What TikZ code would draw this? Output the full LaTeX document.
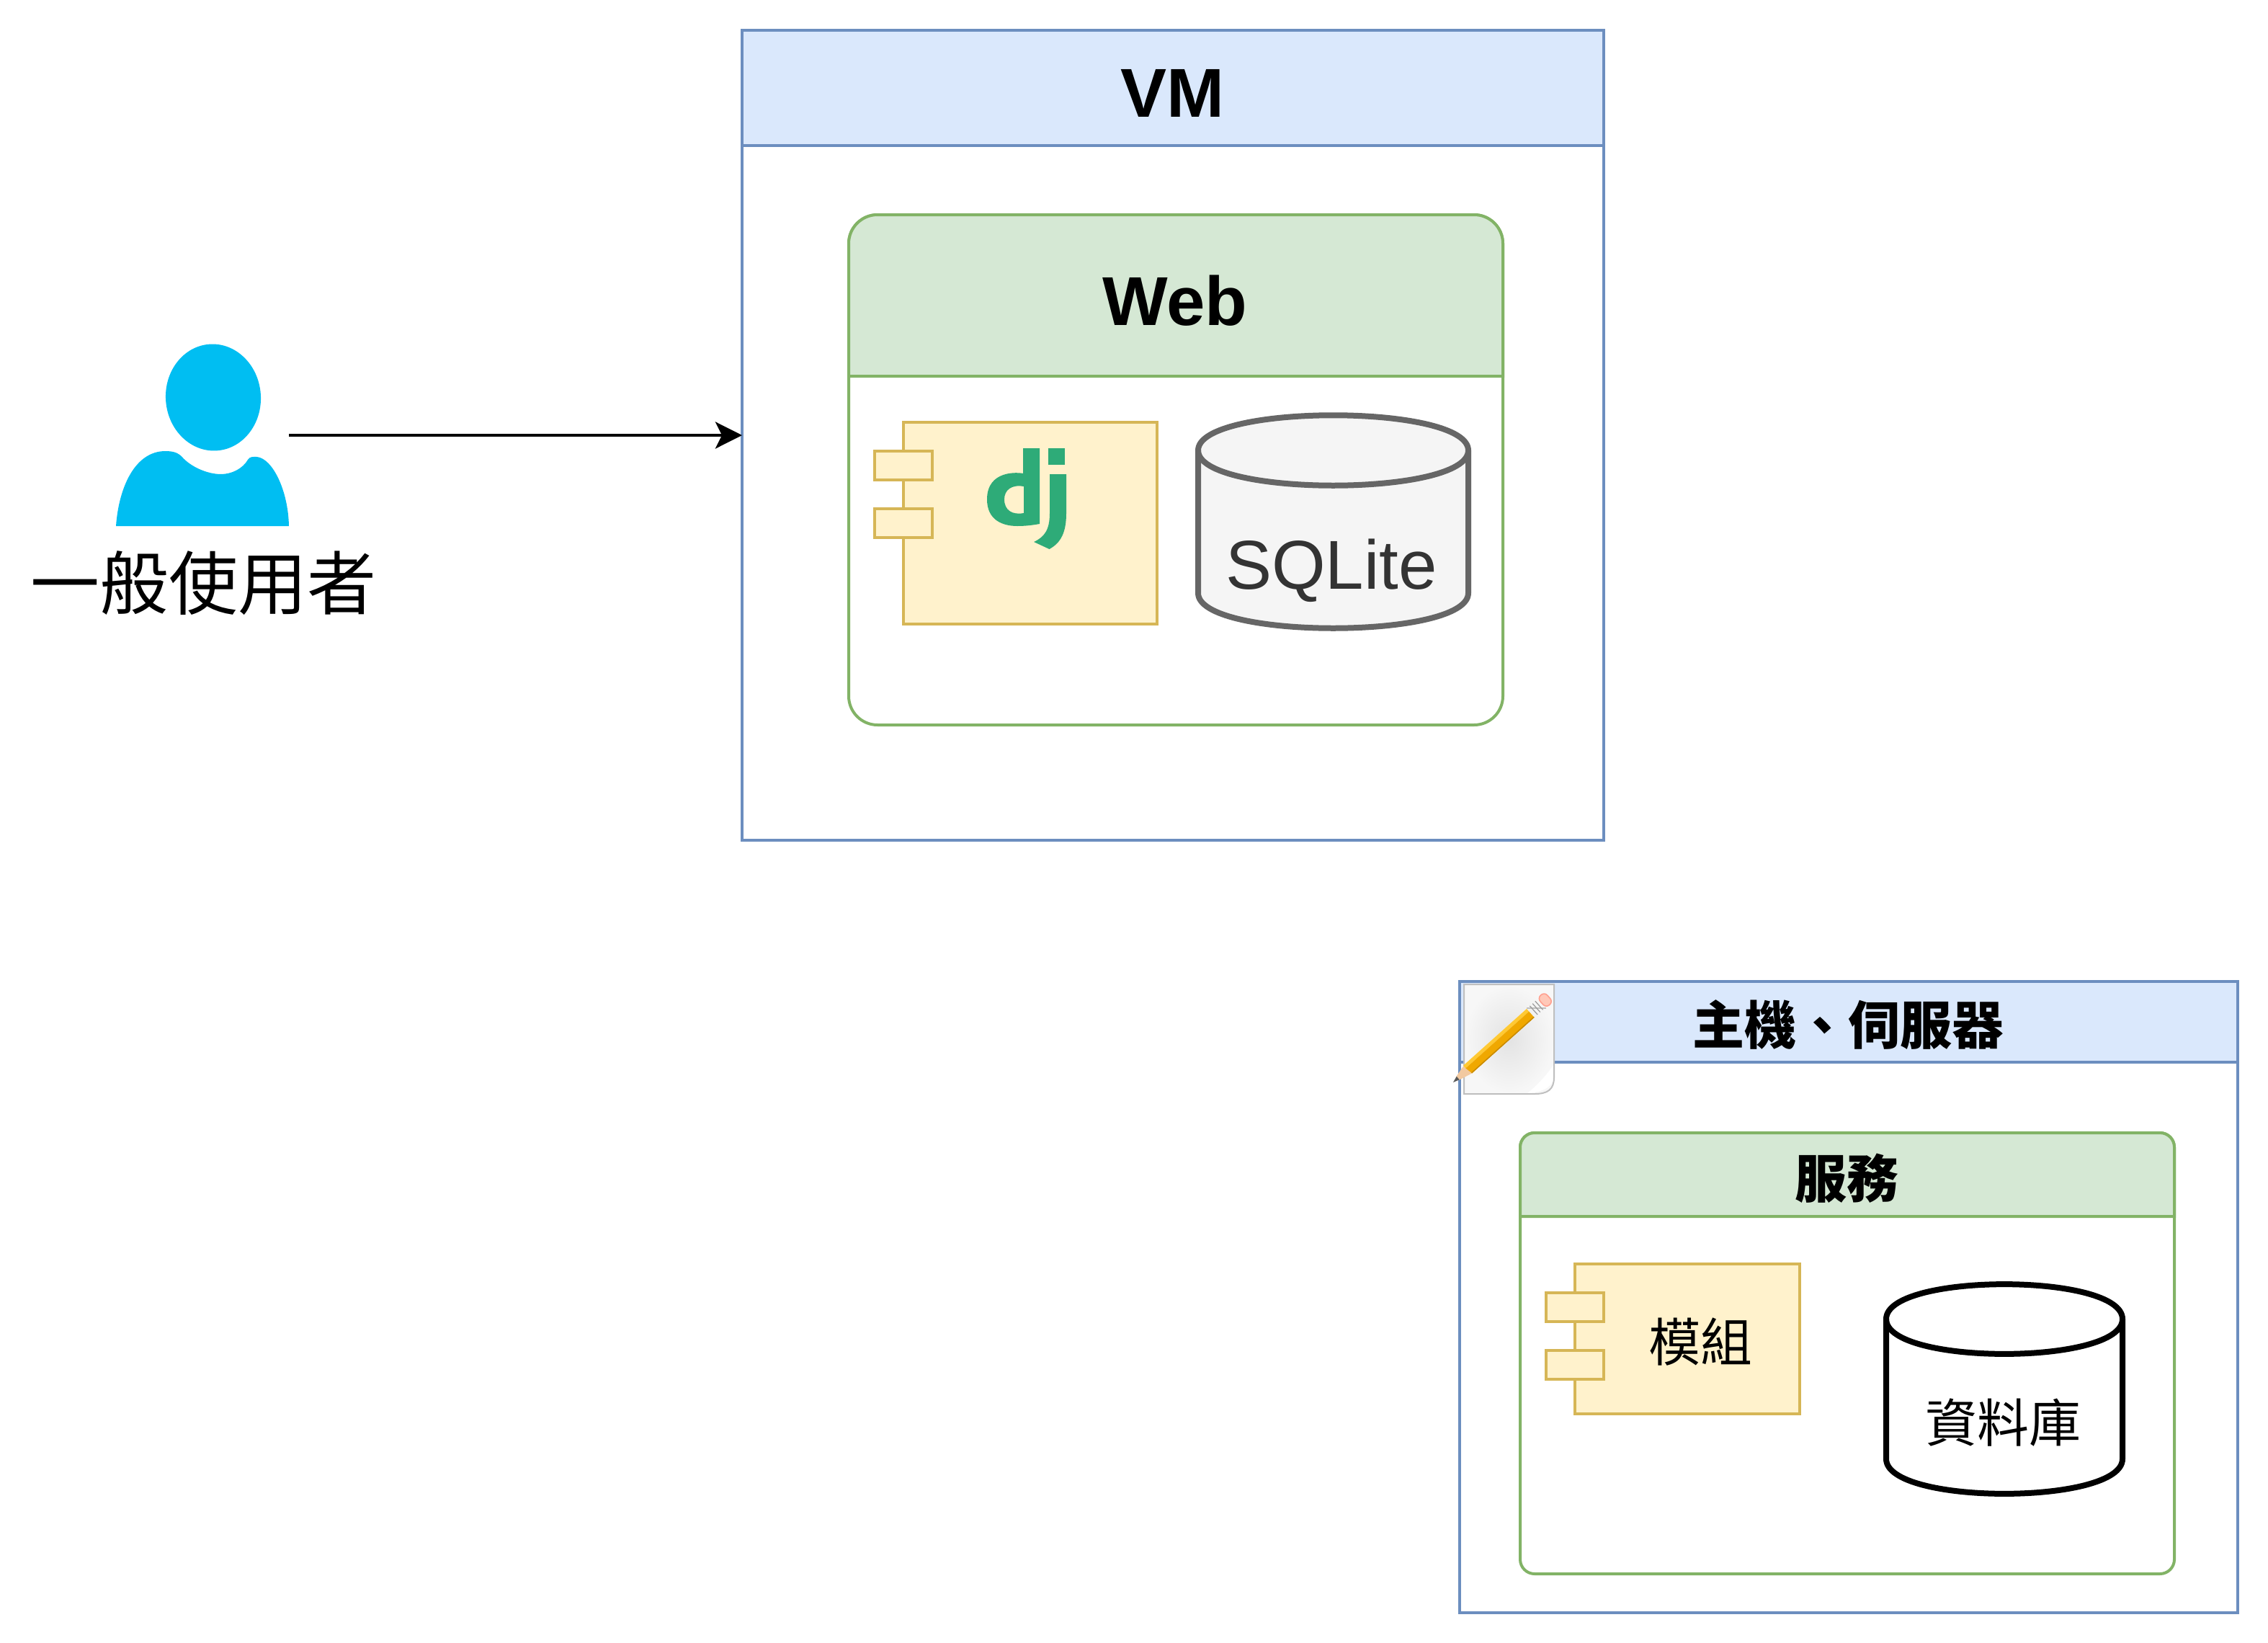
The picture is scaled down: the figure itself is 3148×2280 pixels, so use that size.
\documentclass[tikz,border=0pt]{standalone}
\usepackage{fontspec}
\setmainfont{Liberation Sans}
\newfontfamily\cjk{Noto Sans CJK TC}
\usetikzlibrary{arrows.meta}
\definecolor{bluefill}{HTML}{DAE8FC}
\definecolor{bluedraw}{HTML}{6C8EBF}
\definecolor{greenfill}{HTML}{D5E8D4}
\definecolor{greendraw}{HTML}{82B366}
\definecolor{yellowfill}{HTML}{FFF2CC}
\definecolor{yellowdraw}{HTML}{D6B656}
\definecolor{djgreen}{HTML}{2EAB78}
\definecolor{personblue}{HTML}{00BEF2}
\definecolor{cylgrey}{HTML}{666666}
\definecolor{cylfill}{HTML}{F5F5F5}
\definecolor{textgrey}{HTML}{333333}
\definecolor{pencilbody}{HTML}{F0A800}
\definecolor{pencillight}{HTML}{FFC933}
\definecolor{pencildark}{HTML}{C88A00}
\definecolor{pencilwood}{HTML}{F2C9A0}
\definecolor{eraser}{HTML}{FFC8B8}
\definecolor{eraseredge}{HTML}{FFA090}
\newcommand\boxnode[6]{\node[#6, minimum width={(#4-#2)*0.5pt}, minimum height={(#5-#3)*0.5pt}] (#1) at ({(#2+#4)/2},{(#3+#5)/2}) {};}
\tikzset{
  base/.style={rectangle, inner sep=0pt, outer sep=0pt, line width=2pt},
  lane/.style={base, draw=bluedraw, fill=white},
  lanehead/.style={base, draw=bluedraw, fill=bluefill},
  svc/.style={base, draw=greendraw, fill=white},
  comp/.style={base, draw=yellowdraw, fill=yellowfill},
  ghost/.style={rectangle, inner sep=0pt, outer sep=0pt},
  svchead/.style={draw=greendraw, fill=greenfill, line width=2pt},
  bigtitle/.style={font=\fontsize{48}{48}\selectfont\bfseries, inner sep=0pt},
  smalltitle/.style={font=\cjk\fontsize{36}{36}\selectfont\bfseries, inner sep=0pt},
  cjklabel/.style={font=\cjk\fontsize{36}{36}\selectfont, inner sep=0pt},
  flow/.style={line width=2pt, -{Stealth[length=18.5pt,width=18.5pt,inset=4.5pt]}},
}
\begin{document}
\begin{tikzpicture}[x=0.5pt,y=-0.5pt]
\useasboundingbox (0,0) rectangle (3148,2280);
% VM
\boxnode{vm}{1030}{42}{2226}{1166}{lane}
\boxnode{vmhead}{1030}{42}{2226}{202}{lanehead}
\node[bigtitle] (vmtitle) at (1627,129) {VM};
% Web
\boxnode{web}{1178}{298}{2086}{1006}{svc, rounded corners=20pt}
\draw[svchead] (1178,522) [rounded corners=20pt] -- (1178,298) -- (2086,298) [sharp corners] -- (2086,522) -- cycle;
\node[bigtitle] (webtitle) at (1631,417) {Web};
% Django component
\boxnode{djbox}{1254}{586}{1606}{866}{comp}
\boxnode{djtaba}{1214}{626}{1294}{666}{comp}
\boxnode{djtabb}{1214}{706}{1294}{746}{comp}
\fill[djgreen,even odd rule] (1443,622) -- (1420,622) -- (1420,657) .. controls (1413,655.5) and (1370,652) .. (1370,693) .. controls (1370,722) and (1392,730) .. (1412,730) .. controls (1422,730) and (1432,729) .. (1443,727) -- cycle
  (1421,675) .. controls (1404,672) and (1394,680) .. (1394,693) .. controls (1394,708) and (1405,715) .. (1421,712) -- cycle;
\fill[djgreen] (1455,622) rectangle (1478,645);
\fill[djgreen] (1457,658) -- (1480,658) -- (1480,712) .. controls (1480,738) and (1473,753) .. (1456.5,762) -- (1435,752) .. controls (1450,745) and (1457,735) .. (1457,712) -- cycle;
% SQLite
\draw[line width=4pt, draw=cylgrey, fill=cylfill]
  (1663,625) .. controls (1663,560) and (2038,560) .. (2038,625) -- (2038,823) .. controls (2038,888) and (1663,888) .. (1663,823) -- cycle;
\draw[line width=4pt, draw=cylgrey] (1663,625) .. controls (1663,690) and (2038,690) .. (2038,625);
\node[inner sep=0pt, anchor=base, font=\fontsize{48}{48}\selectfont, text=textgrey] (sqlite) at (1848,817) {SQLite};
% user
\boxnode{user}{161}{478}{401}{730}{ghost}
\fill[personblue, rotate around={4:(296,551.5)}] (296,551.5) ellipse [x radius=33pt, y radius=37pt];
\fill[personblue] (161,730) .. controls (165,675) and (188,626) .. (229.5,626) .. controls (240,626) and (247,628) .. (252.6,634) .. controls (265,648) and (288,658) .. (306.7,658) .. controls (322,658) and (337,650) .. (344,638) .. controls (347,633) and (352,634) .. (356.5,634) .. controls (378,636) and (400,680) .. (401,730) -- cycle;
\node[cjklabel, font=\cjk\fontsize{48}{48}\selectfont] (usertext) at (282,809) {一般使用者};
\coordinate (flowy) at (0,604);
\draw[flow] (user.east |- flowy) -- (vm.west |- flowy);
% Host
\boxnode{host}{2026}{1362}{3106}{2238}{lane}
\boxnode{hosthead}{2026}{1362}{3106}{1474}{lanehead}
\node[smalltitle] (hosttitle) at (2565,1422) {主機、伺服器};
% Service
\boxnode{svcbox}{2110}{1572}{3018}{2184}{svc, rounded corners=10pt}
\draw[svchead] (2110,1688) [rounded corners=10pt] -- (2110,1572) -- (3018,1572) [sharp corners] -- (3018,1688) -- cycle;
\node[smalltitle] (svctitle) at (2563,1635) {服務};
% Module
\boxnode{modbox}{2186}{1754}{2498}{1962}{comp}
\boxnode{modtaba}{2146}{1794}{2226}{1834}{comp}
\boxnode{modtabb}{2146}{1874}{2226}{1914}{comp}
\node[cjklabel] (modtext) at (2360,1862) {模組};
% Database
\draw[line width=4pt, draw=black, fill=white]
  (2618,1830.5) .. controls (2618,1766) and (2946,1766) .. (2946,1830.5) -- (2946,2024.5) .. controls (2946,2089) and (2618,2089) .. (2618,2024.5) -- cycle;
\draw[line width=4pt, draw=black] (2618,1830.5) .. controls (2618,1895) and (2946,1895) .. (2946,1830.5);
\node[cjklabel] (dbtext) at (2780,1974) {資料庫};
% Note icon
\shade[inner color=black!11, outer color=black!3] (2032,1366) -- (2157,1366) -- (2157,1495) .. controls (2157,1512) and (2148,1518) .. (2130,1518) -- (2032,1518) -- cycle;
\fill[white] (2120,1517) .. controls (2135,1505) and (2148,1490) .. (2156,1478) -- (2156,1500) .. controls (2150,1510) and (2140,1516) .. (2120,1517) -- cycle;
\draw[line width=1pt, black!25] (2032,1366) -- (2157,1366) -- (2157,1495) .. controls (2157,1512) and (2148,1518) .. (2130,1518) -- (2032,1518) -- cycle;
\begin{scope}[shift={(2017,1502)}, x={(0.3725pt,0.3335pt)}, y={(0.3335pt,-0.3725pt)}]
  \fill[pencilwood] (8,-3) -- (28,-8) -- (28,8) -- (8,3) -- cycle;
  \fill[black!65] (0,0) -- (9,-3) -- (9,3) -- cycle;
  \fill[pencillight] (26,-8) -- (144,-8) -- (144,-3) -- (26,-3) -- cycle;
  \fill[pencilbody] (26,-3) -- (144,-3) -- (144,8) -- (28,8) -- cycle;
  \fill[pencildark] (28,6.5) -- (144,6.5) -- (144,8) -- (28,8) -- cycle;
  \fill[black!25] (144,-8.5) rectangle (165,8.5);
  \draw[black!40, line width=0.6pt] (150,-8) -- (150,8) (155,-8) -- (155,8) (160,-8) -- (160,8);
  \draw[fill=eraser, draw=eraseredge, line width=0.8pt, rounded corners=3pt] (165,-9) -- (178,-9) -- (178,9) -- (165,9) -- cycle;
\end{scope}
\end{tikzpicture}
\end{document}
